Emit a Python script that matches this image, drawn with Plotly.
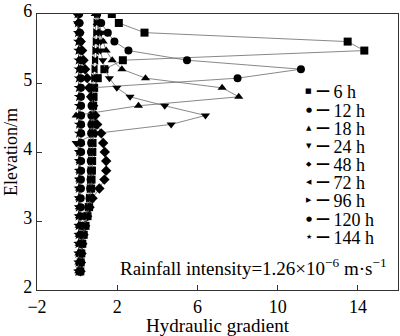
import plotly.graph_objects as go

elev = [6.00, 5.87, 5.73, 5.60, 5.47, 5.33, 5.20, 5.07, 4.93, 4.80, 4.67, 4.53, 4.40, 4.27,
        4.13, 4.00, 3.87, 3.73, 3.60, 3.47, 3.33, 3.20, 3.07, 2.93, 2.80, 2.67, 2.53, 2.40, 2.27]

g_6h = [1.73, 2.08, 3.36, 13.49, 14.32, 2.28, 1.36, 1.03, 0.85, 0.82, 0.80, 0.80, 0.78, 0.78,
        0.77, 0.76, 0.75, 0.74, 0.72, 0.70, 0.66, 0.60, 0.52, 0.42, 0.33, 0.26, 0.21, 0.18, 0.16]
g_12h = [1.00, 1.20, 1.53, 1.86, 2.56, 5.48, 11.16, 8.00, 0.70, 0.72, 0.72, 0.71, 0.71, 0.70,
         0.70, 0.69, 0.68, 0.68, 0.67, 0.65, 0.62, 0.56, 0.48, 0.38, 0.30, 0.24, 0.20, 0.17, 0.15]
g_18h = [0.90, 1.00, 1.15, 1.30, 1.45, 1.75, 2.23, 3.41, 7.23, 8.06, 3.06, -0.05, 0.18, 0.20,
         0.18, 0.16, 0.15, 0.14, 0.13, 0.12, 0.12, 0.11, 0.11, 0.10, 0.10, 0.10, 0.09, 0.09, 0.08]
g_24h = [1.00, 1.10, 1.20, 1.18, 1.16, 1.28, 1.40, 1.61, 1.98, 2.64, 4.37, 6.40, 4.69, 0.95,
         -0.05, 0.10, 0.12, 0.12, 0.11, 0.11, 0.10, 0.10, 0.10, 0.09, 0.09, 0.09, 0.08, 0.08, 0.08]
g_48h = [0.05, 0.08, 0.12, 0.18, 0.25, 0.32, 0.40, 0.50, 0.60, 0.70, 0.80, 0.90, 1.00, 1.20,
         1.30, 1.38, 1.45, 1.45, 1.36, 1.11, 0.77, 0.62, 0.50, 0.40, 0.32, 0.26, 0.22, 0.19, 0.17]
g_72h = [1.05, 1.05, 1.02, 1.00, 0.98, 0.95, 0.92, 0.90, 0.88, 0.86, 0.85, 0.84, 0.83, 0.82,
         0.81, 0.80, 0.78, 0.76, 0.73, 0.70, 0.65, 0.58, 0.50, 0.40, 0.32, 0.26, 0.22, 0.19, 0.17]
g_96h = [0.95, 0.92, 0.90, 0.88, 0.86, 0.84, 0.82, 0.80, 0.78, 0.76, 0.75, 0.74, 0.72, 0.70,
         0.68, 0.66, 0.64, 0.62, 0.60, 0.58, 0.54, 0.48, 0.42, 0.36, 0.30, 0.25, 0.21, 0.18, 0.16]
g_120h = [0.10, 0.12, 0.14, 0.15, 0.16, 0.17, 0.18, 0.18, 0.19, 0.19, 0.20, 0.20, 0.20, 0.20,
          0.20, 0.20, 0.20, 0.20, 0.19, 0.19, 0.18, 0.18, 0.17, 0.17, 0.16, 0.16, 0.15, 0.15, 0.14]
g_144h = [0.02, 0.04, 0.05, 0.06, 0.07, 0.08, 0.08, 0.09, 0.09, 0.10, 0.10, 0.10, 0.10, 0.10,
          0.10, 0.10, 0.10, 0.10, 0.10, 0.09, 0.09, 0.09, 0.08, 0.08, 0.08, 0.07, 0.07, 0.07, 0.06]

series_names = ["6 h", "12 h", "18 h", "24 h", "48 h", "72 h", "96 h", "120 h", "144 h"]
series_values = [g_6h, g_12h, g_18h, g_24h, g_48h, g_72h, g_96h, g_120h, g_144h]
symbols = ["square", "circle", "triangle-up", "triangle-down", "diamond",
           "triangle-left", "triangle-right", "circle", "star"]
legend_glyphs = ["\u25a0", "\u25cf", "\u25b2", "\u25bc", "\u25c6", "\u25c0", "\u25b6", "\u25cf", "\u2605"]

FONT = "Liberation Serif"
W, H = 400, 336
ML, MR, MT, MB = 37, 1, 3, 46
PW, PH = W - ML - MR, H - MT - MB


def px2paper(px, py):
    return (px - ML) / PW, (H - MB - py) / PH


fig = go.Figure()

for name, vals, sym in zip(series_names, series_values, symbols):
    fig.add_trace(go.Scatter(
        x=vals, y=elev, mode="lines+markers", name=name, showlegend=False,
        line=dict(color="#6a6a6a", width=0.8),
        marker=dict(symbol=sym, size=8, color="black"),
    ))

# legend built from text: glyph + dash + label, rows ~19 px apart
for i, (name, glyph) in enumerate(zip(series_names, legend_glyphs)):
    row_y = 83.5 + i * 18.9
    sx, sy = px2paper(309.5, row_y)
    fig.add_annotation(text=glyph, xref="paper", yref="paper", x=sx, y=sy,
                       xanchor="center", yanchor="middle", showarrow=False,
                       font=dict(family="DejaVu Sans", size=7, color="black"))
    lx, ly = px2paper(315, row_y)
    fig.add_annotation(text="<span style='font-family:DejaVu Sans;font-size:20px'>\u2500</span> " + name,
                       xref="paper", yref="paper", x=lx, y=ly,
                       xanchor="left", yanchor="middle", showarrow=False,
                       font=dict(family=FONT, size=18, color="black"))

ax, ay = px2paper(254, 281)
fig.add_annotation(
    text="Rainfall intensity=1.26\u00d710<sup>\u22126</sup> m\u00b7s<sup>\u22121</sup>",
    xref="paper", yref="paper", x=ax, y=ay, xanchor="center", yanchor="bottom",
    showarrow=False, font=dict(family=FONT, size=19, color="black"),
)

axis_common = dict(
    showline=True, linecolor="#333", linewidth=1.2, mirror=True,
    ticks="inside", ticklen=5, tickcolor="#333", showgrid=False, zeroline=False,
    tickfont=dict(family=FONT, size=18, color="black"), ticklabeloverflow="allow",
)

fig.update_layout(
    width=W, height=H,
    margin=dict(l=ML, r=MR, t=MT, b=MB),
    paper_bgcolor="white", plot_bgcolor="white", showlegend=False,
    xaxis=dict(range=[-2, 16], tickvals=[-2, 2, 6, 10, 14],
               ticktext=["\u22122", "2", "6", "10", "14"],
               title=dict(text="Hydraulic gradient", font=dict(family=FONT, size=19, color="black"),
                          standoff=0),
               **axis_common),
    yaxis=dict(range=[2, 6], tickvals=[2, 3, 4, 5, 6], ticklabelshift=-3,
               title=dict(text="Elevation/m", font=dict(family=FONT, size=18, color="black"),
                          standoff=0),
               **axis_common),
)

fig.write_html("out.html")
